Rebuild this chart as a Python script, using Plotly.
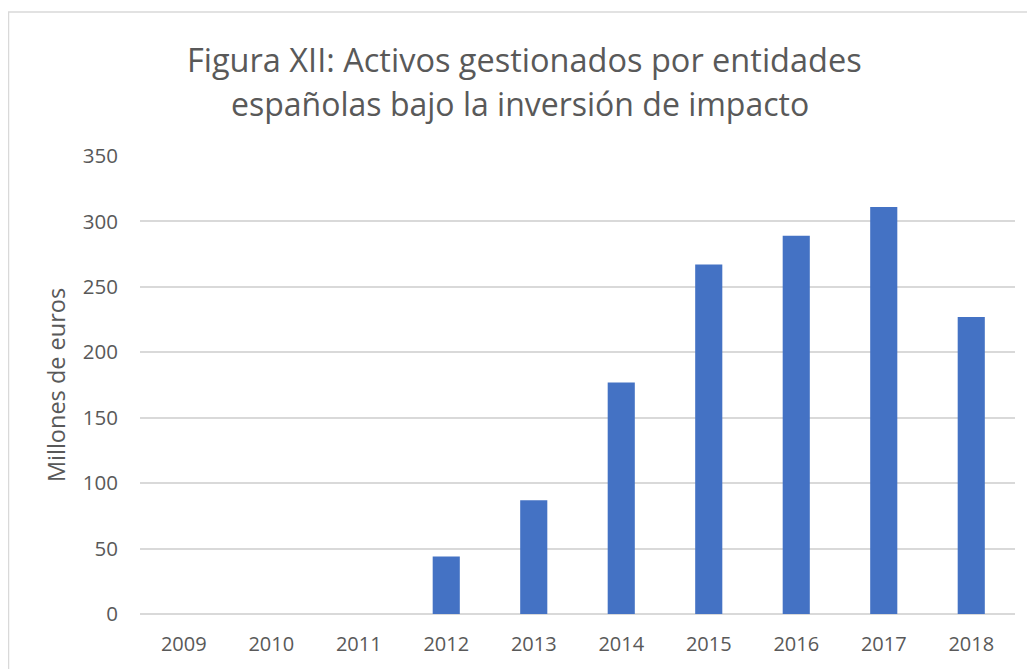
import plotly.graph_objects as go

years = ["2009", "2010", "2011", "2012", "2013", "2014", "2015", "2016", "2017", "2018"]
values = [0, 0, 0, 44, 87, 177, 267, 289, 311, 227]
y_ticks = [0, 50, 100, 150, 200, 250, 300, 350]
title_lines = ["Figura XII: Activos gestionados por entidades",
               "españolas bajo la inversión de impacto"]

# plot area in figure pixels (page is offset by 8px body margin)
L, R, T, B = 132, 1007, 148, 606
W, H = 1035, 669

def px_x(px):
    return (px - L) / (R - L)

def px_y(py):
    return (B - py) / (B - T)

fig = go.Figure(go.Bar(x=years, y=values, marker=dict(color="#4472C4", line=dict(width=0))))

grey = "#595959"
fig.update_layout(
    width=W, height=H,
    margin=dict(l=L, r=W - R, t=T, b=H - B),
    paper_bgcolor="white", plot_bgcolor="white",
    bargap=0.69,
    font=dict(family="Open Sans", color=grey),
    xaxis=dict(type="category", showgrid=False, showline=False, ticks="",
               tickfont=dict(size=20, color=grey), ticklabelstandoff=16),
    yaxis=dict(range=[0, 350], tickvals=y_ticks, showgrid=True, gridcolor="#D9D9D9", gridwidth=1.5,
               zeroline=True, zerolinecolor="#D9D9D9", zerolinewidth=1.5, ticks="",
               tickfont=dict(size=20.5, color=grey), ticklabelstandoff=21,
               title=dict(text="Millones de euros", font=dict(size=23.5, color=grey), standoff=10)),
    showlegend=False,
    annotations=[
        dict(text=title_lines[0], xref="paper", yref="paper", x=px_x(516), y=px_y(51),
             xanchor="center", yanchor="middle", showarrow=False, font=dict(size=32.5, color=grey)),
        dict(text=title_lines[1], xref="paper", yref="paper", x=px_x(512), y=px_y(95),
             xanchor="center", yanchor="middle", showarrow=False, font=dict(size=32, color=grey)),
    ],
    shapes=[dict(type="rect", xref="paper", yref="paper", x0=px_x(0.5), x1=px_x(W + 50),
                 y0=px_y(H + 50), y1=px_y(4), line=dict(color="#D9D9D9", width=1.5), layer="below")],
)

fig.write_html("out.html")
